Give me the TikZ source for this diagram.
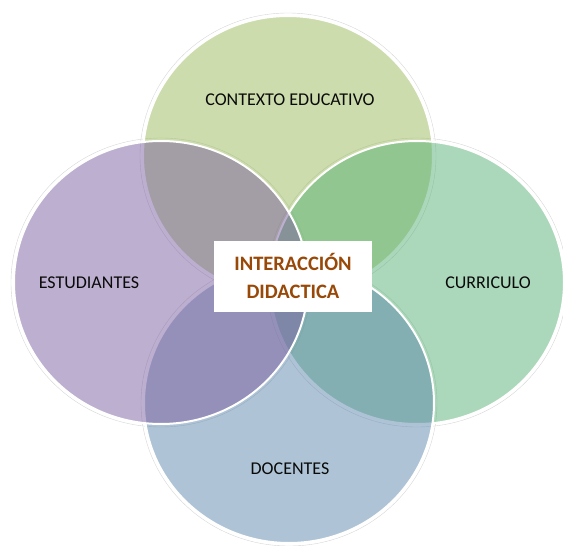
\documentclass[tikz,border=0pt]{standalone}
\usepackage{fontspec}
\setmainfont{Carlito}
\definecolor{cTop}{RGB}{153,185,89}
\definecolor{cLeft}{RGB}{123,95,161}
\definecolor{cRight}{RGB}{87,177,117}
\definecolor{cBottom}{RGB}{93,135,171}
\definecolor{cTitle}{RGB}{152,72,7}
\definecolor{cText}{RGB}{10,10,10}
\tikzset{
  venn/.style={draw=white, line width=2pt, fill opacity=0.5},
  halo/.style={draw=black!16, line width=0.4pt},
  lbl/.style={anchor=base, inner sep=0pt, text=cText, font=\fontsize{18}{20}\selectfont},
  ttl/.style={anchor=base, inner sep=0pt, text=cTitle, font=\fontsize{20.5}{24}\selectfont\bfseries},
}
\begin{document}
\begin{tikzpicture}[x=1pt, y=-1pt]
\useasboundingbox (0,0) rectangle (563,546);
% soft outer outlines
\path[halo] (288,156) ellipse [x radius=148pt, y radius=143pt];
\path[halo] (417,282.5) ellipse [x radius=150pt, y radius=144.5pt];
\path[halo] (289,403) ellipse [x radius=148pt, y radius=143pt];
\path[halo] (161,282.5) ellipse [x radius=150pt, y radius=144.5pt];
% circles (drawing order: top, right, bottom, left)
\path[venn, fill=cTop] (288,156) ellipse [x radius=145pt, y radius=140pt];
\path[venn, fill=cRight] (417,282.5) ellipse [x radius=147pt, y radius=141.5pt];
\path[venn, fill=cBottom] (289,403) ellipse [x radius=145pt, y radius=140pt];
\path[venn, fill=cLeft] (161,282.5) ellipse [x radius=147pt, y radius=141.5pt];
% labels
\node[lbl] (contexto) at (290,105) {CONTEXTO EDUCATIVO};
\node[lbl] (estudiantes) at (89,288) {ESTUDIANTES};
\node[lbl] (curriculo) at (488,288) {CURRICULO};
\node[lbl] (docentes) at (290,474) {DOCENTES};
% center box
\node[fill=white, minimum width=158pt, minimum height=71pt, inner sep=0pt] (box) at (293,276.5) {};
\node[ttl] (inter) at (293,270) {INTERACCIÓN};
\node[ttl] (didac) at (293,298) {DIDACTICA};
\end{tikzpicture}
\end{document}
